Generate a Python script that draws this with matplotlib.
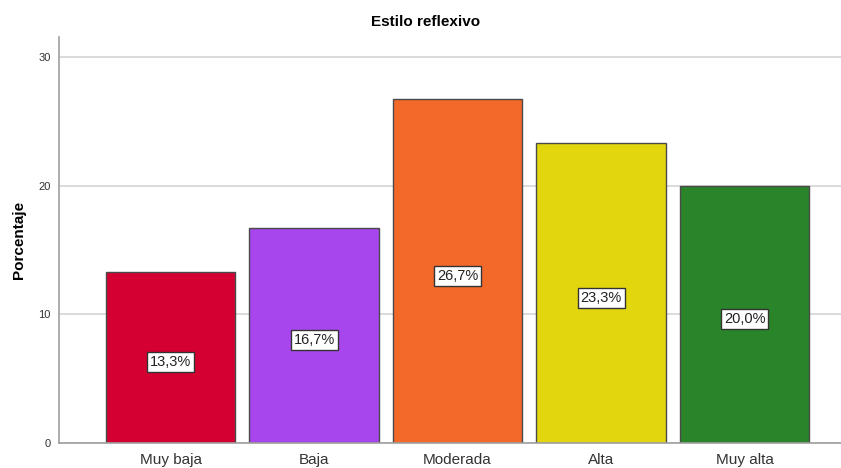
import matplotlib
matplotlib.use("Agg")
import matplotlib.pyplot as plt

categories = ["Muy baja", "Baja", "Moderada", "Alta", "Muy alta"]
values = [13.3, 16.7, 26.7, 23.3, 20.0]
labels = ["13,3%", "16,7%", "26,7%", "23,3%", "20,0%"]
colors = ["#D50032", "#A846EE", "#F2692A", "#E2D60E", "#2A852A"]
yticks = [0, 10, 20, 30]

plt.rcParams['font.family'] = ['Liberation Sans', 'DejaVu Sans']

fig = plt.figure(figsize=(8.41, 4.68), dpi=100)
ax = fig.add_axes([0.0702, 0.0534, 0.9298, 0.8676])

x = list(range(len(categories)))
ax.set_axisbelow(True)
ax.yaxis.grid(True, color="#d4d4d4", linewidth=1.2)
bars = ax.bar(x, values, width=0.9, color=colors, edgecolor="#4a4a4a", linewidth=1.0)
for xi, v, lab in zip(x, values, labels):
    ax.annotate(lab, xy=(xi, v / 2), xytext=(0, -3.5), textcoords="offset points",
                ha="center", va="center", fontsize=10.5, color="#222222",
                bbox=dict(boxstyle="square,pad=0.2", facecolor="white", edgecolor="#333333", linewidth=1.0))

ax.set_xlim(-0.777, 4.672)
ax.set_ylim(0, 31.55)
ax.set_yticks(yticks)
ax.set_xticks(x)
ax.set_xticklabels(categories, fontsize=11, color="#333333")
ax.tick_params(axis="y", length=0, labelsize=8, colors="#333333", pad=6)
ax.tick_params(axis="x", length=0, pad=7)
for s in ["top", "right"]:
    ax.spines[s].set_visible(False)
for s in ["left", "bottom"]:
    ax.spines[s].set_color("#a0a0a0")
    ax.spines[s].set_linewidth(1.2)

ax.set_ylabel("Porcentaje", fontsize=11, fontweight="bold", labelpad=9)
fig.text(0.506, 0.953, "Estilo reflexivo", ha="center", va="center", fontsize=11, fontweight="bold")

fig.savefig("out.png", dpi=100)
